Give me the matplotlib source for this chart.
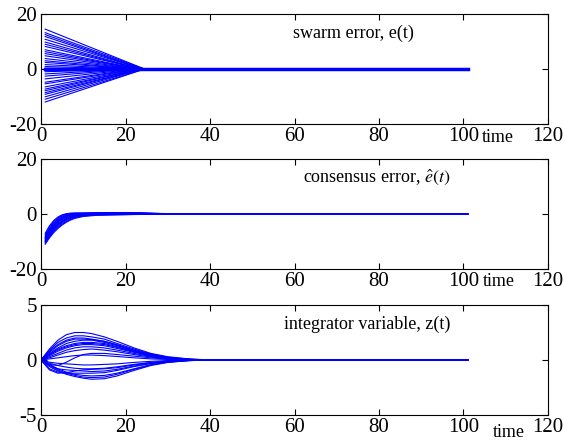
import matplotlib
matplotlib.use("Agg")
import matplotlib.pyplot as plt
import matplotlib.transforms as mtransforms

plt.rcParams["font.family"] = ["Liberation Serif", "DejaVu Serif"]
plt.rcParams["mathtext.fontset"] = "stix"
plt.rcParams["axes.unicode_minus"] = False

# swarm error: start value at t=1, time when it reaches zero
e_start = [14.5, 13.2, 12.5, 11.8, 10.8, 9.8, 9.0, 8.2, 7.0, 6.3, 5.6, 4.8,
           3.8, 3.0, 2.4, 1.6, 0.9, 0.3, -0.4, -1.0, -1.8, -2.6, -3.6, -4.8,
           -5.4, -6.5, -7.3, -7.9, -8.6, -9.2, -10.1, -11.0, -12.0]
e_zero_t = [24.5, 24.5, 24, 24, 24, 23.5, 23.5, 23.5, 23, 23, 23, 22.5,
            22.5, 22, 22, 21.5, 21, 20, 20, 21, 21.5, 22, 22.5, 22.5,
            23, 23, 23.5, 23.5, 24, 24, 24, 24.5, 24.5]
e_end_t = 101

# consensus error samples
c_time = [1, 2, 3, 4, 5, 6, 7, 8, 10, 13, 17, 22, 27, 33, 101]
c_runs = [
    [-7.0, -4.3, -2.4, -1.1, -0.3, 0.1, 0.3, 0.35, 0.35, 0.4, 0.5, 0.45, 0.25, 0, 0],
    [-7.5, -4.8, -2.8, -1.4, -0.5, 0.0, 0.2, 0.3, 0.3, 0.35, 0.45, 0.4, 0.2, 0, 0],
    [-8.0, -5.3, -3.2, -1.8, -0.8, -0.2, 0.1, 0.2, 0.25, 0.3, 0.4, 0.35, 0.2, 0, 0],
    [-8.3, -5.7, -3.6, -2.1, -1.1, -0.5, -0.1, 0.1, 0.2, 0.3, 0.35, 0.3, 0.15, 0, 0],
    [-8.6, -6.0, -4.0, -2.5, -1.4, -0.7, -0.3, 0.0, 0.15, 0.25, 0.3, 0.25, 0.1, 0, 0],
    [-9.0, -6.4, -4.4, -2.9, -1.8, -1.0, -0.5, -0.2, 0.1, 0.2, 0.3, 0.25, 0.1, 0, 0],
    [-9.3, -6.8, -4.8, -3.3, -2.1, -1.3, -0.8, -0.4, 0.0, 0.15, 0.2, 0.2, 0.1, 0, 0],
    [-9.6, -7.2, -5.2, -3.7, -2.5, -1.6, -1.0, -0.6, -0.15, 0.05, 0.1, 0.1, 0.05, 0, 0],
    [-10.0, -7.6, -5.6, -4.1, -2.9, -2.0, -1.3, -0.9, -0.35, -0.05, 0.0, 0.05, 0.02, 0, 0],
    [-10.3, -8.0, -6.0, -4.5, -3.3, -2.3, -1.6, -1.1, -0.5, -0.2, -0.15, -0.1, -0.05, 0, 0],
    [-10.6, -8.3, -6.4, -4.9, -3.7, -2.7, -1.9, -1.3, -0.7, -0.35, -0.25, -0.15, -0.05, 0, 0],
    [-11.0, -8.7, -6.8, -5.3, -4.0, -3.0, -2.2, -1.6, -0.9, -0.5, -0.35, -0.2, -0.08, 0, 0],
    [-8.8, -6.2, -4.1, -2.6, -1.5, -0.8, -0.35, -0.1, 0.1, 0.25, 0.35, 0.3, 0.15, 0, 0],
    [-9.8, -7.4, -5.4, -3.9, -2.7, -1.8, -1.15, -0.75, -0.25, 0.0, 0.05, 0.05, 0.02, 0, 0],
]

# integrator variable samples
z_time = [0, 2, 4, 6, 8, 10, 12, 15, 18, 22, 26, 30, 35, 40, 101]
z_runs = [
    [0, 1.0, 1.8, 2.3, 2.5, 2.5, 2.4, 2.1, 1.7, 1.1, 0.6, 0.3, 0.1, 0, 0],
    [0, 0.9, 1.6, 2.0, 2.2, 2.2, 2.1, 1.9, 1.5, 1.0, 0.55, 0.25, 0.08, 0, 0],
    [0, 0.8, 1.4, 1.8, 2.0, 2.0, 1.9, 1.7, 1.4, 0.9, 0.5, 0.2, 0.06, 0, 0],
    [0, 0.7, 1.3, 1.7, 1.9, 1.9, 1.85, 1.7, 1.35, 0.9, 0.48, 0.2, 0.05, 0, 0],
    [0, 0.6, 1.1, 1.5, 1.7, 1.8, 1.8, 1.6, 1.3, 0.85, 0.45, 0.2, 0.05, 0, 0],
    [0, 0.5, 1.0, 1.3, 1.5, 1.6, 1.6, 1.5, 1.2, 0.8, 0.4, 0.18, 0.05, 0, 0],
    [0, 0.5, 0.9, 1.2, 1.4, 1.5, 1.5, 1.4, 1.15, 0.75, 0.4, 0.17, 0.04, 0, 0],
    [0, 0.4, 0.8, 1.1, 1.3, 1.4, 1.4, 1.3, 1.05, 0.7, 0.38, 0.16, 0.04, 0, 0],
    [0, 0.3, 0.6, 0.9, 1.1, 1.2, 1.2, 1.1, 0.9, 0.6, 0.32, 0.14, 0.04, 0, 0],
    [0, 0.2, 0.45, 0.7, 0.85, 0.95, 1.0, 0.9, 0.75, 0.5, 0.27, 0.12, 0.03, 0, 0],
    [0, -0.4, -0.5, -0.2, 0.2, 0.5, 0.6, 0.6, 0.5, 0.35, 0.2, 0.08, 0.02, 0, 0],
    [0, 0.1, 0.2, 0.3, 0.4, 0.45, 0.45, 0.4, 0.32, 0.2, 0.1, 0.05, 0.01, 0, 0],
    [0, -0.2, -0.3, -0.35, -0.4, -0.45, -0.45, -0.4, -0.35, -0.22, -0.12, -0.05, -0.01, 0, 0],
    [0, -0.3, -0.5, -0.65, -0.75, -0.8, -0.8, -0.75, -0.62, -0.4, -0.22, -0.1, -0.03, 0, 0],
    [0, -0.5, -0.8, -0.9, -0.95, -1.0, -1.05, -1.0, -0.85, -0.55, -0.3, -0.13, -0.03, 0, 0],
    [0, -0.9, -1.2, -1.15, -1.0, -0.9, -0.85, -0.8, -0.7, -0.45, -0.25, -0.1, -0.03, 0, 0],
    [0, -0.8, -1.1, -1.2, -1.2, -1.2, -1.2, -1.15, -0.95, -0.6, -0.32, -0.14, -0.04, 0, 0],
    [0, -0.4, -0.8, -1.1, -1.3, -1.4, -1.45, -1.4, -1.2, -0.8, -0.42, -0.18, -0.05, 0, 0],
    [0, -0.5, -0.9, -1.2, -1.4, -1.55, -1.6, -1.55, -1.3, -0.85, -0.45, -0.2, -0.05, 0, 0],
    [0, -0.6, -1.0, -1.3, -1.5, -1.65, -1.75, -1.7, -1.45, -0.95, -0.5, -0.22, -0.06, 0, 0],
]

x_ticks = [0, 20, 40, 60, 80, 100, 120]
titles = ["swarm error, e(t)", r"consensus error, $\hat{e}(t)$", "integrator variable, z(t)"]
title_pos = [(59.6, 13.1), (62.0, 13.5), (57.5, 3.2)]
y_lims = [(-20, 20), (-20, 20), (-5, 5)]
time_pos = [(104.4, -0.127), (104.6, -0.118), (107.0, -0.155)]

W, H = 564, 440
fig = plt.figure(figsize=(W / 100, H / 100), dpi=100)
tops = [14, 159, 305]
axes = []
for top in tops:
    ax = fig.add_axes([41 / W, 1 - (top + 110) / H, 507 / W, 110 / H])
    axes.append(ax)

blue = (0, 0, 1)
lw = 0.8

ax = axes[0]
for v, tz in zip(e_start, e_zero_t):
    ax.plot([1, tz, e_end_t], [v, 0, 0], color=blue, lw=lw)
ax.plot([1, e_end_t], [0, 0], color=blue, lw=2.5)

ax = axes[1]
for run in c_runs:
    ax.plot(c_time, run, color=blue, lw=lw)

ax = axes[2]
for run in z_runs:
    ax.plot(z_time, run, color=blue, lw=lw)

for i, ax in enumerate(axes):
    ax.set_xlim(0, 120)
    ax.set_ylim(*y_lims[i])
    lo, hi = y_lims[i]
    ax.set_yticks([lo, 0, hi])
    ax.set_xticks(x_ticks)
    ax.tick_params(direction="in", top=True, right=True, length=4,
                   labelsize=15, pad=2, width=0.8)
    ax.tick_params(axis="y", pad=3)
    for s in ax.spines.values():
        s.set_linewidth(0.8)
    tx, ty = title_pos[i]
    ax.text(tx, ty, titles[i], fontsize=13, ha="left", va="center")
    trans = mtransforms.blended_transform_factory(ax.transData, ax.transAxes)
    px, py = time_pos[i]
    ax.text(px, py, "time", fontsize=13, ha="left", va="center",
            transform=trans, clip_on=False)

fig.savefig("out.png", dpi=100)
